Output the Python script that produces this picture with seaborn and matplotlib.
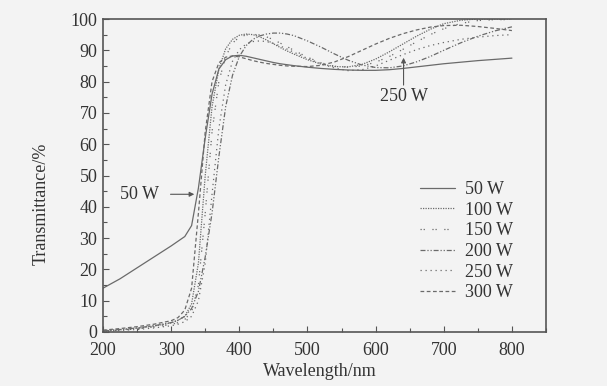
import matplotlib
matplotlib.use("Agg")
import matplotlib.pyplot as plt
import seaborn as sns
import pandas as pd

wavelength = [200, 225, 250, 275, 300, 310, 320, 330, 340, 350, 360, 370, 380, 390, 400,
              410, 420, 430, 440, 450, 460, 470, 480, 500, 520, 540, 560, 580, 600, 620,
              640, 660, 680, 700, 725, 750, 775, 800]

t_50w = [14, 17, 20.5, 24, 27.5, 29, 30.5, 34, 46, 62, 76, 84, 87, 88.2, 88.4,
         88.1, 87.6, 87.1, 86.6, 86.1, 85.7, 85.4, 85.1, 84.6, 84.2, 83.9, 83.7, 83.6, 83.6, 83.8,
         84.2, 84.7, 85.2, 85.7, 86.2, 86.7, 87.1, 87.5]
t_100w = [0.3, 0.7, 1.2, 1.9, 2.9, 3.7, 5, 9, 22, 50, 72, 84, 90.5, 93.5, 94.8,
          95.2, 95, 94.3, 93.3, 92.1, 90.9, 89.8, 88.8, 87, 85.6, 84.8, 84.7, 85.5, 87.2, 89.5,
          92, 94.5, 96.7, 98.5, 99.6, 100, 100, 100]
t_150w = [0.3, 0.6, 1, 1.6, 2.4, 3, 4, 6.5, 15, 38, 64, 80, 88, 92.3, 94.2,
          94.9, 95.1, 94.9, 94.3, 93.4, 92.3, 91.2, 90, 87.8, 86, 84.9, 84.6, 85, 86.2, 88,
          90.3, 92.7, 95, 96.9, 98.6, 99.5, 99.8, 99.8]
t_200w = [0.4, 0.8, 1.3, 2, 3, 3.8, 5, 7.5, 13, 24, 38, 56, 72, 82, 88,
          91.5, 93.5, 94.6, 95.2, 95.5, 95.5, 95.2, 94.7, 93, 91, 88.8, 86.8, 85.3, 84.5, 84.4,
          85, 86.3, 88, 90, 92.4, 94.5, 96.2, 97.5]
t_250w = [0.2, 0.5, 0.8, 1.3, 2, 2.5, 3.3, 5, 10, 22, 44, 65, 79, 86.5, 90.2,
          92, 92.8, 93, 92.8, 92.2, 91.4, 90.4, 89.4, 87.4, 85.7, 84.3, 83.5, 83.8, 85, 86.8,
          88.6, 90.2, 91.5, 92.5, 93.5, 94.2, 94.7, 95]
t_300w = [0.6, 1.1, 1.7, 2.5, 3.6, 4.6, 7, 14, 38, 64, 80, 86, 87.8, 88.2, 87.9,
          87.3, 86.7, 86.2, 85.8, 85.5, 85.2, 85, 84.9, 84.8, 85.2, 86.3, 88, 90, 92, 93.8,
          95.3, 96.5, 97.4, 97.9, 98, 97.6, 97, 96.3]

labels = ["50 W", "100 W", "150 W", "200 W", "250 W", "300 W"]
series = [t_50w, t_100w, t_150w, t_200w, t_250w, t_300w]
styles = ["-", (0, (1, 1)), (0, (1, 1.5, 1, 6)), (0, (4, 1.5, 1, 1.5, 1, 1.5)),
          (0, (1, 3)), (0, (3, 2))]

sns.set_style("ticks")
plt.rcParams["font.family"] = ["Liberation Serif", "DejaVu Serif"]

fig = plt.figure(figsize=(6.07, 3.86), dpi=100, facecolor="#f3f3f3")
ax = fig.add_axes([103/607, 1-332/386, 443/607, 313/386])
ax.set_facecolor("#f3f3f3")

line_color = "#6a6a6a"
for lab, vals, ls in zip(labels, series, styles):
    df = pd.DataFrame({"wl": wavelength, "T": vals})
    sns.lineplot(data=df, x="wl", y="T", ax=ax, color=line_color, linestyle=ls,
                 linewidth=0.9, label=lab)

ax.set_xlim(200, 850)
ax.set_ylim(0, 100)
ax.set_xticks(range(200, 801, 100))
ax.set_xticks(range(200, 851, 50), minor=True)
ax.set_yticks(range(0, 101, 10))
ax.set_yticks(range(0, 101, 5), minor=True)

txt_color = "#333333"
ax.tick_params(axis="both", which="major", direction="in", length=4, width=0.8,
               labelsize=13, colors="#555555", labelcolor=txt_color, pad=4)
ax.tick_params(axis="x", which="major", pad=7)
ax.tick_params(axis="both", which="minor", direction="in", length=3, width=0.8,
               colors="#555555")
for sp in ax.spines.values():
    sp.set_color("#555555")
    sp.set_linewidth(1.2)

ax.set_xlabel("Wavelength/nm", fontsize=13, color=txt_color)
ax.set_ylabel("Transmittance/%", fontsize=13, color=txt_color)
ax.xaxis.set_label_coords(0.49, -0.1)
ax.yaxis.set_label_coords(-0.12, 0.41)

# annotations
ax.annotate("", xy=(338, 44), xytext=(295, 44),
            arrowprops=dict(arrowstyle="-|>", color="#555555", lw=0.8,
                            mutation_scale=7))
ax.text(254, 44, "50 W", fontsize=13, color=txt_color, ha="center", va="center")
ax.annotate("", xy=(641, 88.5), xytext=(641, 78),
            arrowprops=dict(arrowstyle="-|>", color="#555555", lw=0.8,
                            mutation_scale=7))
ax.text(641, 75.3, "250 W", fontsize=13, color=txt_color, ha="center", va="center")

leg = ax.legend(loc="upper left", bbox_to_anchor=(0.716, 0.482), frameon=False,
                fontsize=13, handlelength=1.95, handletextpad=0.55,
                labelspacing=0.2, borderpad=0, borderaxespad=0)
for t in leg.get_texts():
    t.set_color(txt_color)

fig.savefig("out.png", dpi=100, facecolor=fig.get_facecolor())
